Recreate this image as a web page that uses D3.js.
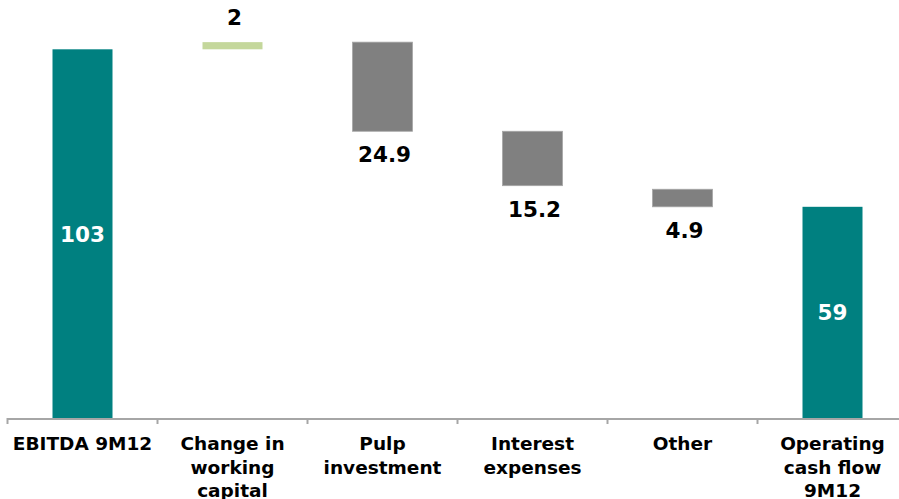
<!DOCTYPE html>
<html>
<head>
<meta charset="utf-8">
<script src="https://cdn.jsdelivr.net/npm/d3@7"></script>
<style>
  html, body { margin: 0; padding: 0; background: #ffffff; }
  svg { display: block; }
  text { font-family: "DejaVu Sans", Verdana, sans-serif; font-weight: bold; }
</style>
</head>
<body>
<svg id="chart" width="899" height="499"></svg>
<script>
// Operating cash flow bridge, 9M12
const categories = [
  ["EBITDA 9M12"],
  ["Change in", "working", "capital"],
  ["Pulp", "investment"],
  ["Interest", "expenses"],
  ["Other"],
  ["Operating", "cash flow", "9M12"]
];
const kinds = ["total", "up", "down", "down", "down", "total"];
const values = [103, 2, 24.9, 15.2, 4.9, 59];
// level each step bar starts from (totals start at zero)
const stepStart = [0, 103, 105, 80.1, 63.9, 0];
const labels = ["103", "2", "24.9", "15.2", "4.9", "59"];

const colors = { total: "#008080", up: "#c4d79b", down: "#808080" };

const svg = d3.select("#chart");
const baseY = 418;

const x = d3.scaleBand()
  .domain(d3.range(categories.length))
  .range([7.5, 907.5])
  .paddingInner(0)
  .paddingOuter(0);

const y = d3.scaleLinear()
  .domain([0, 103])
  .range([baseY, 49.3]);

const barW = 60;

const bars = categories.map((c, i) => {
  const k = kinds[i];
  let lo, hi;
  if (k === "total") { lo = 0; hi = values[i]; }
  else if (k === "up") { lo = stepStart[i]; hi = stepStart[i] + values[i]; }
  else { hi = stepStart[i]; lo = stepStart[i] - values[i]; }
  return { i, k, lo, hi, label: labels[i] };
});

const cx = i => x(i) + x.bandwidth() / 2;

svg.append("g").selectAll("rect")
  .data(bars)
  .join("rect")
  .attr("x", d => cx(d.i) - barW / 2)
  .attr("width", barW)
  .attr("y", d => y(d.hi))
  .attr("height", d => y(d.lo) - y(d.hi))
  .attr("fill", d => colors[d.k])
  .attr("stroke", d => d.k === "down" ? "#a6a6a6" : "none")
  .attr("stroke-width", 0.8);

// value labels
svg.append("g").selectAll("text")
  .data(bars)
  .join("text")
  .attr("x", d => cx(d.i) + (d.k === "total" ? 0 : 2))
  .attr("y", d => {
    if (d.k === "total") return (y(d.hi) + y(d.lo)) / 2 + 8;
    if (d.k === "up") return y(d.hi) - 17;
    return y(d.lo) + 31;
  })
  .attr("text-anchor", "middle")
  .attr("font-size", 21.5)
  .attr("fill", d => d.k === "total" ? "#ffffff" : "#000000")
  .text(d => d.label);

// category axis
const axis = svg.append("g");
axis.append("line")
  .attr("x1", x(0)).attr("x2", 899)
  .attr("y1", baseY + 1).attr("y2", baseY + 1)
  .attr("stroke", "#a6a6a6").attr("stroke-width", 2);
axis.selectAll("line.tick")
  .data(d3.range(categories.length))
  .join("line")
  .attr("class", "tick")
  .attr("x1", i => x(i)).attr("x2", i => x(i))
  .attr("y1", baseY).attr("y2", baseY + 6)
  .attr("stroke", "#a6a6a6").attr("stroke-width", 2);

const catText = axis.selectAll("text.cat")
  .data(categories)
  .join("text")
  .attr("class", "cat")
  .attr("text-anchor", "middle")
  .attr("font-size", 18.5)
  .attr("fill", "#000000")
  .attr("y", 450);
catText.selectAll("tspan")
  .data((d, i) => d.map((s, j) => ({ s, j, i })))
  .join("tspan")
  .attr("x", d => cx(d.i))
  .attr("dy", d => d.j === 0 ? 0 : 23.5)
  .text(d => d.s);
</script>
</body>
</html>
